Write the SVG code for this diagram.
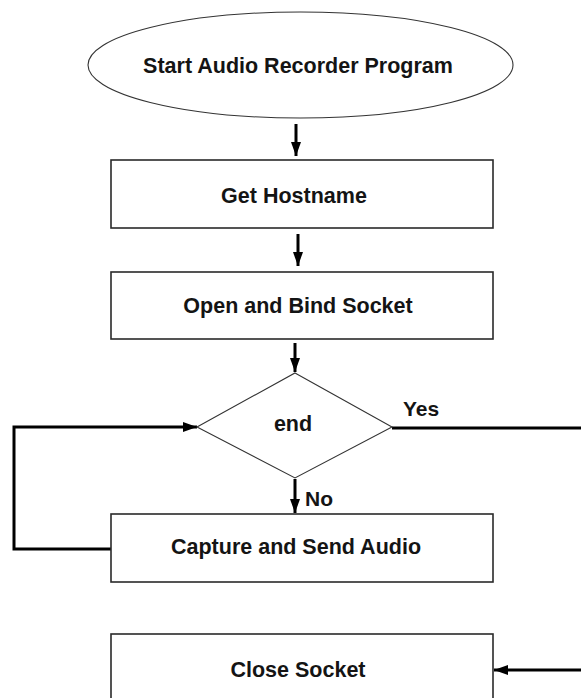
<svg xmlns="http://www.w3.org/2000/svg" width="581" height="698" viewBox="0 0 581 698">
  <style>
    .shape { fill: #ffffff; stroke: #2a2a2a; stroke-width: 1.6; }
    .thin { fill: #ffffff; stroke: #333333; stroke-width: 1.1; }
    .label { font-family: "Liberation Sans", Arial, sans-serif; font-weight: bold; font-size: 21.5px; fill: #141414; text-anchor: middle; }
    .tag { font-family: "Liberation Sans", Arial, sans-serif; font-weight: bold; font-size: 21px; fill: #141414; }
    .flow { fill: none; stroke: #000000; stroke-width: 3; }
  </style>
  <defs>
    <marker id="head" markerUnits="userSpaceOnUse" markerWidth="14" markerHeight="10" refX="14" refY="5" orient="auto">
      <path d="M0,0 L14,5 L0,10 z" fill="#000000"/>
    </marker>
  </defs>
  <rect width="581" height="698" fill="#ffffff"/>

  <!-- flow lines -->
  <g id="connectors">
    <line class="flow" x1="296" y1="124" x2="296" y2="156" marker-end="url(#head)"/>
    <line class="flow" x1="298" y1="234" x2="298" y2="266" marker-end="url(#head)"/>
    <line class="flow" x1="295" y1="343" x2="295" y2="372" marker-end="url(#head)"/>
    <line class="flow" x1="295" y1="479" x2="295" y2="513" marker-end="url(#head)"/>
    <path class="flow" d="M112,549 H14 V427 H197" marker-end="url(#head)"/>
    <path class="flow" d="M392,428 H586 V670 H494" marker-end="url(#head)"/>
  </g>

  <g id="start">
    <ellipse class="thin" cx="300.5" cy="65" rx="212.5" ry="53"/>
    <text class="label" x="298" y="73">Start Audio Recorder Program</text>
  </g>

  <g id="get-hostname">
    <rect class="shape" x="111" y="160" width="382" height="68"/>
    <text class="label" x="294" y="203">Get Hostname</text>
  </g>

  <g id="open-bind">
    <rect class="shape" x="111" y="272" width="382" height="67"/>
    <text class="label" x="298" y="313">Open and Bind Socket</text>
  </g>

  <g id="end-check">
    <polygon class="thin" points="295,373 392,427 295,478 197,427"/>
    <text class="label" x="293" y="431">end</text>
    <text class="tag" x="403" y="416">Yes</text>
    <text class="tag" x="305" y="506">No</text>
  </g>

  <g id="capture-send">
    <rect class="shape" x="111" y="514" width="382" height="68"/>
    <text class="label" x="296" y="554">Capture and Send Audio</text>
  </g>

  <g id="close-socket">
    <rect class="shape" x="111" y="634" width="382" height="68"/>
    <text class="label" x="298" y="677">Close Socket</text>
  </g>
</svg>
